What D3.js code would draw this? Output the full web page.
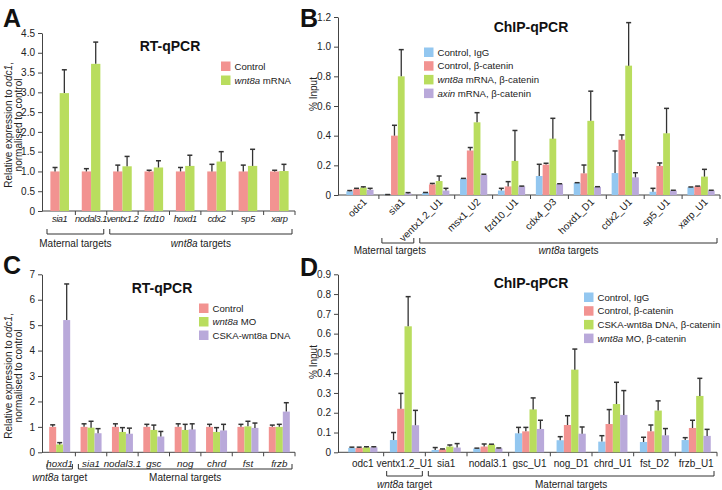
<!DOCTYPE html>
<html><head><meta charset="utf-8">
<script src="https://cdn.jsdelivr.net/npm/d3@7"></script>
<style>
body{margin:0;background:#fff}
svg{font-family:"Liberation Sans",Arial,sans-serif;display:block}
</style>
</head><body><div id="fig"></div>
<script>
// ---- panel A: RT-qPCR, wnt8a mRNA
var genesA = ["sia1","nodal3.1","ventx1.2","fzd10","hoxd1","cdx2","sp5","xarp"];
var ctrlA = [1,1,1,1,1,1,1,1];
var ctrlErrA = [0.1,0.07,0.16,0.03,0.1,0.18,0.16,0.03];
var wntA = [2.98,3.72,1.13,1.1,1.14,1.25,1.14,1.01];
var wntErrA = [0.59,0.55,0.25,0.17,0.27,0.25,0.42,0.17];
var ticksA = [0,0.5,1,1.5,2,2.5,3,3.5,4,4.5];

// ---- panel B: ChIP-qPCR, wnt8a / axin mRNA
var genesB = ["odc1","sia1","ventx1.2_U1","msx1_U2","fzd10_U1","cdx4_D3","hoxd1_D1","cdx2_U1","sp5_U1","xarp_U1"];
var iggB = [0.025,0.003,0.015,0.11,0.03,0.128,0.081,0.148,0.022,0.052];
var iggErrB = [0.005,0,0.002,0.002,0.015,0.079,0.002,0.149,0.023,0.002];
var ctrlB = [0.04,0.40,0.072,0.30,0.058,0.205,0.146,0.373,0.196,0.058];
var ctrlErrB = [0.005,0.07,0.006,0.02,0.032,0.009,0.056,0.032,0.02,0.002];
var wntB = [0.05,0.80,0.094,0.49,0.23,0.38,0.50,0.872,0.416,0.124];
var wntErrB = [0.005,0.18,0.034,0.065,0.205,0.137,0.20,0.29,0.168,0.049];
var axinB = [0.035,0.01,0.03,0.135,0.058,0.074,0.054,0.119,0.03,0.03];
var axinErrB = [0.01,0.006,0.015,0.005,0.002,0.002,0.002,0.031,0.002,0.002];
var ticksB = [0,0.2,0.4,0.6,0.8,1.0,1.2];

// ---- panel C: RT-qPCR, wnt8a MO / CSKA-wnt8a
var genesC = ["hoxd1","sia1","nodal3.1","gsc","nog","chrd","fst","frzb"];
var ctrlC = [1,1,1,1,1,1,1,1];
var ctrlErrC = [0.08,0.12,0.12,0.1,0.12,0.1,0.1,0.07];
var moC = [0.31,0.97,0.8,0.88,0.88,0.8,1.02,1.0];
var moErrC = [0.07,0.25,0.17,0.19,0.22,0.17,0.2,0.1];
var cskaC = [5.2,0.75,0.73,0.62,0.9,0.86,0.96,1.6];
var cskaErrC = [1.42,0.18,0.22,0.2,0.22,0.24,0.19,0.35];
var ticksC = [0,1,2,3,4,5,6,7];

// ---- panel D: ChIP-qPCR, CSKA-wnt8a / wnt8a MO
var genesD = ["odc1","ventx1.2_U1","sia1","nodal3.1","gsc_U1","nog_D1","chrd_U1","fst_D2","frzb_U1"];
var iggD = [0.022,0.062,0.012,0.019,0.096,0.061,0.054,0.052,0.062];
var iggErrD = [0.004,0.038,0.012,0.002,0.03,0.018,0.03,0.024,0.012];
var ctrlD = [0.022,0.22,0.015,0.029,0.106,0.138,0.143,0.106,0.123];
var ctrlErrD = [0.004,0.078,0.002,0.013,0.02,0.047,0.073,0.032,0.039];
var cskaD = [0.025,0.637,0.029,0.039,0.217,0.418,0.244,0.211,0.285];
var cskaErrD = [0.003,0.15,0.008,0.002,0.058,0.104,0.11,0.049,0.089];
var moD = [0.025,0.137,0.024,0.02,0.118,0.094,0.189,0.086,0.083];
var moErrD = [0.003,0.075,0.02,0.002,0.044,0.034,0.123,0.034,0.033];
var ticksD = [0,0.1,0.2,0.3,0.4,0.5,0.6,0.7,0.8,0.9];

var col = {ctrl:"#f29391", wnt:"#b9dd5e", igg:"#93c7f0", purple:"#b9a9da"};

var svg = d3.select("#fig").append("svg").attr("width",722).attr("height",490);

function fmtDec(d){ return d === 0 ? "0" : d3.format(".1f")(d); }

// text with optional italic part: parts = [[text, italic], ...]
function richText(sel, parts){
    parts.forEach(function(p){
        sel.append("tspan").text(p[0]).style("font-style", p[1] ? "italic" : "normal");
    });
    return sel;
}

function panel(c){
    var g = svg.append("g");
    var n = c.series.length;
    var x = d3.scaleBand().domain(c.cats).range(c.xr);
    var y = d3.scaleLinear().domain([0, c.ymax]).range([c.y0, c.yTop]);
    var off = (x.bandwidth() - n*c.barW)/2;

    // y axis
    var ya = g.append("g").attr("transform","translate("+c.axX+",0)")
        .call(d3.axisLeft(y).tickValues(c.ticks).tickFormat(c.fmt).tickSize(4).tickSizeOuter(0));
    ya.select(".domain").attr("stroke","#444");
    ya.selectAll(".tick line").attr("stroke","#444");
    ya.selectAll("text").attr("font-size",10).attr("fill","#222").attr("font-family",null);

    // x axis line with ticks between groups
    g.append("line").attr("x1",c.axX).attr("x2",c.xr[1]).attr("y1",c.y0).attr("y2",c.y0)
        .attr("stroke","#444");
    g.selectAll(".xt").data(c.cats.slice(1).concat([null])).enter().append("line")
        .attr("x1",function(d){ return d ? x(d) : c.xr[1]; })
        .attr("x2",function(d){ return d ? x(d) : c.xr[1]; })
        .attr("y1",c.y0).attr("y2",c.y0+4).attr("stroke","#444");

    // bars + error bars
    c.series.forEach(function(s, si){
        var bx = function(d,i){ return x(c.cats[i]) + off + si*c.barW; };
        g.selectAll(".b"+si).data(s.vals).enter().append("rect")
            .attr("x",bx).attr("width",c.barW)
            .attr("y",function(d){ return y(d); })
            .attr("height",function(d){ return c.y0 - y(d); })
            .attr("fill",s.color);
        var eg = g.selectAll(".e"+si).data(s.vals).enter().append("g");
        eg.append("line")
            .attr("x1",function(d,i){ return bx(d,i)+c.barW/2; })
            .attr("x2",function(d,i){ return bx(d,i)+c.barW/2; })
            .attr("y1",function(d){ return y(d); })
            .attr("y2",function(d,i){ return y(d + s.err[i]); })
            .attr("stroke","#333").attr("stroke-width",1.3);
        eg.append("line")
            .attr("x1",function(d,i){ return bx(d,i)+c.barW/2-2.5; })
            .attr("x2",function(d,i){ return bx(d,i)+c.barW/2+2.5; })
            .attr("y1",function(d,i){ return y(d + s.err[i]); })
            .attr("y2",function(d,i){ return y(d + s.err[i]); })
            .attr("stroke","#333").attr("stroke-width",1.5);
    });

    // category labels
    var lab = g.selectAll(".cl").data(c.cats).enter().append("text")
        .attr("font-size",c.catSize).attr("fill","#222")
        .attr("letter-spacing",c.catSpacing || 0)
        .style("font-style", c.catItalic ? "italic" : "normal")
        .text(function(d){ return d; });
    if (c.rotate){
        lab.attr("text-anchor","end")
            .attr("transform",function(d){ return "translate("+(x(d)+x.bandwidth()/2+5)+","+(c.y0+5)+") rotate(-45)"; })
            .attr("dy","0.35em");
    } else {
        lab.attr("text-anchor","middle")
            .attr("x",function(d){ return x(d)+x.bandwidth()/2; })
            .attr("y",c.y0+c.catDy);
    }

    // brackets
    c.brackets.forEach(function(b){
        var x1 = x(b.from)+3, x2 = x(b.to)+x.bandwidth()-3;
        g.append("path").attr("fill","none").attr("stroke","#333").attr("stroke-width",1)
            .attr("d","M"+x1+","+(c.brY-5)+"V"+c.brY+"H"+x2+"V"+(c.brY-5));
        var t = g.append("text").attr("text-anchor","middle").attr("font-size",10).attr("fill","#222")
            .attr("x",(x1+x2)/2 + (b.dx||0)).attr("y",c.brTextY);
        richText(t, b.label);
    });

    // title
    g.append("text").attr("x",c.title[1]).attr("y",c.title[2]).attr("text-anchor","middle")
        .attr("font-size",14).attr("font-weight","bold").attr("fill","#111").text(c.title[0]);

    // panel letter
    g.append("text").attr("x",c.letter[1]).attr("y",c.letter[2]).attr("font-size",25)
        .attr("font-weight","bold").attr("fill","#111").text(c.letter[0]);

    // y label
    c.ylab.forEach(function(l, li){
        var t = g.append("text").attr("text-anchor","middle").attr("font-size",10).attr("fill","#222")
            .attr("transform","translate("+c.ylabX[li]+","+c.ylabY+") rotate(-90)");
        richText(t, l);
    });

    // legend
    c.series.forEach(function(s, si){
        var ly = c.leg[1] + si*c.leg[2];
        g.append("rect").attr("x",c.leg[0]).attr("y",ly-4.5).attr("width",9.5).attr("height",9.5).attr("fill",s.color);
        var t = g.append("text").attr("x",c.leg[0]+13.5).attr("y",ly+3.5).attr("font-size",9.6).attr("fill","#222");
        richText(t, s.name);
    });
}

var ylabRel = [[["Relative expression to ",0],["odc1",1],[",",0]], [["normalised to control",0]]];

panel({
    cats: genesA, xr:[44,295], axX:42, y0:211, yTop:33, ymax:4.5, ticks:ticksA, fmt:fmtDec, barW:9.3,
    series:[
        {name:[["Control",0]], vals:ctrlA, err:ctrlErrA, color:col.ctrl},
        {name:[["wnt8a",1],[" mRNA",0]], vals:wntA, err:wntErrA, color:col.wnt}
    ],
    catItalic:true, catSize:9.3, catSpacing:-0.45, catDy:11, rotate:false,
    brackets:[
        {label:[["Maternal targets",0]], from:"sia1", to:"nodal3.1"},
        {label:[["wnt8a",1],[" targets",0]], from:"ventx1.2", to:"xarp"}
    ],
    brY:234, brTextY:247,
    title:["RT-qPCR",170,51], letter:["A",3,27],
    ylab:ylabRel, ylabX:[12,22], ylabY:125,
    leg:[221,66,14]
});

panel({
    cats: genesB, xr:[341,720], axX:338, y0:195, yTop:17, ymax:1.2, ticks:ticksB, fmt:fmtDec, barW:6.8,
    series:[
        {name:[["Control, IgG",0]], vals:iggB, err:iggErrB, color:col.igg},
        {name:[["Control, β-catenin",0]], vals:ctrlB, err:ctrlErrB, color:col.ctrl},
        {name:[["wnt8a",1],[" mRNA, β-catenin",0]], vals:wntB, err:wntErrB, color:col.wnt},
        {name:[["axin",1],[" mRNA, β-catenin",0]], vals:axinB, err:axinErrB, color:col.purple}
    ],
    catItalic:false, catSize:10, rotate:true,
    brackets:[
        {label:[["Maternal targets",0]], from:"sia1", to:"sia1", dx:-8},
        {label:[["wnt8a",1],[" targets",0]], from:"ventx1.2_U1", to:"xarp_U1"}
    ],
    brY:243, brTextY:254,
    title:["ChIP-qPCR",531,32], letter:["B",300,27],
    ylab:[[["% Input",0]]], ylabX:[317], ylabY:94,
    leg:[424,52,13.7]
});

panel({
    cats: genesC, xr:[44,295], axX:42, y0:452.3, yTop:274.3, ymax:7, ticks:ticksC, fmt:d3.format("d"), barW:7,
    series:[
        {name:[["Control",0]], vals:ctrlC, err:ctrlErrC, color:col.ctrl},
        {name:[["wnt8a",1],[" MO",0]], vals:moC, err:moErrC, color:col.wnt},
        {name:[["CSKA-wnt8a DNA",0]], vals:cskaC, err:cskaErrC, color:col.purple}
    ],
    catItalic:true, catSize:9.8, catDy:14.5, rotate:false,
    brackets:[
        {label:[["wnt8a",1],[" target",0]], from:"hoxd1", to:"hoxd1"},
        {label:[["Maternal targets",0]], from:"sia1", to:"frzb"}
    ],
    brY:469, brTextY:481,
    title:["RT-qPCR",162,293], letter:["C",3,274],
    ylab:ylabRel, ylabX:[12,22], ylabY:376,
    leg:[199,308,13.5]
});

panel({
    cats: genesD, xr:[342,717], axX:338, y0:452.3, yTop:274.3, ymax:0.9, ticks:ticksD, fmt:fmtDec, barW:7.3,
    series:[
        {name:[["Control, IgG",0]], vals:iggD, err:iggErrD, color:col.igg},
        {name:[["Control, β-catenin",0]], vals:ctrlD, err:ctrlErrD, color:col.ctrl},
        {name:[["CSKA-wnt8a DNA, β-catenin",0]], vals:cskaD, err:cskaErrD, color:col.wnt},
        {name:[["wnt8a",1],[" MO, β-catenin",0]], vals:moD, err:moErrD, color:col.purple}
    ],
    catItalic:false, catSize:10, catDy:14.5, rotate:false,
    brackets:[
        {label:[["wnt8a",1],[" target",0]], from:"ventx1.2_U1", to:"ventx1.2_U1"},
        {label:[["Maternal targets",0]], from:"sia1", to:"frzb_U1"}
    ],
    brY:476, brTextY:488,
    title:["ChIP-qPCR",531,288], letter:["D",300,276],
    ylab:[[["% Input",0]]], ylabX:[317], ylabY:362,
    leg:[584,297,13.7]
});
</script>
</body></html>
